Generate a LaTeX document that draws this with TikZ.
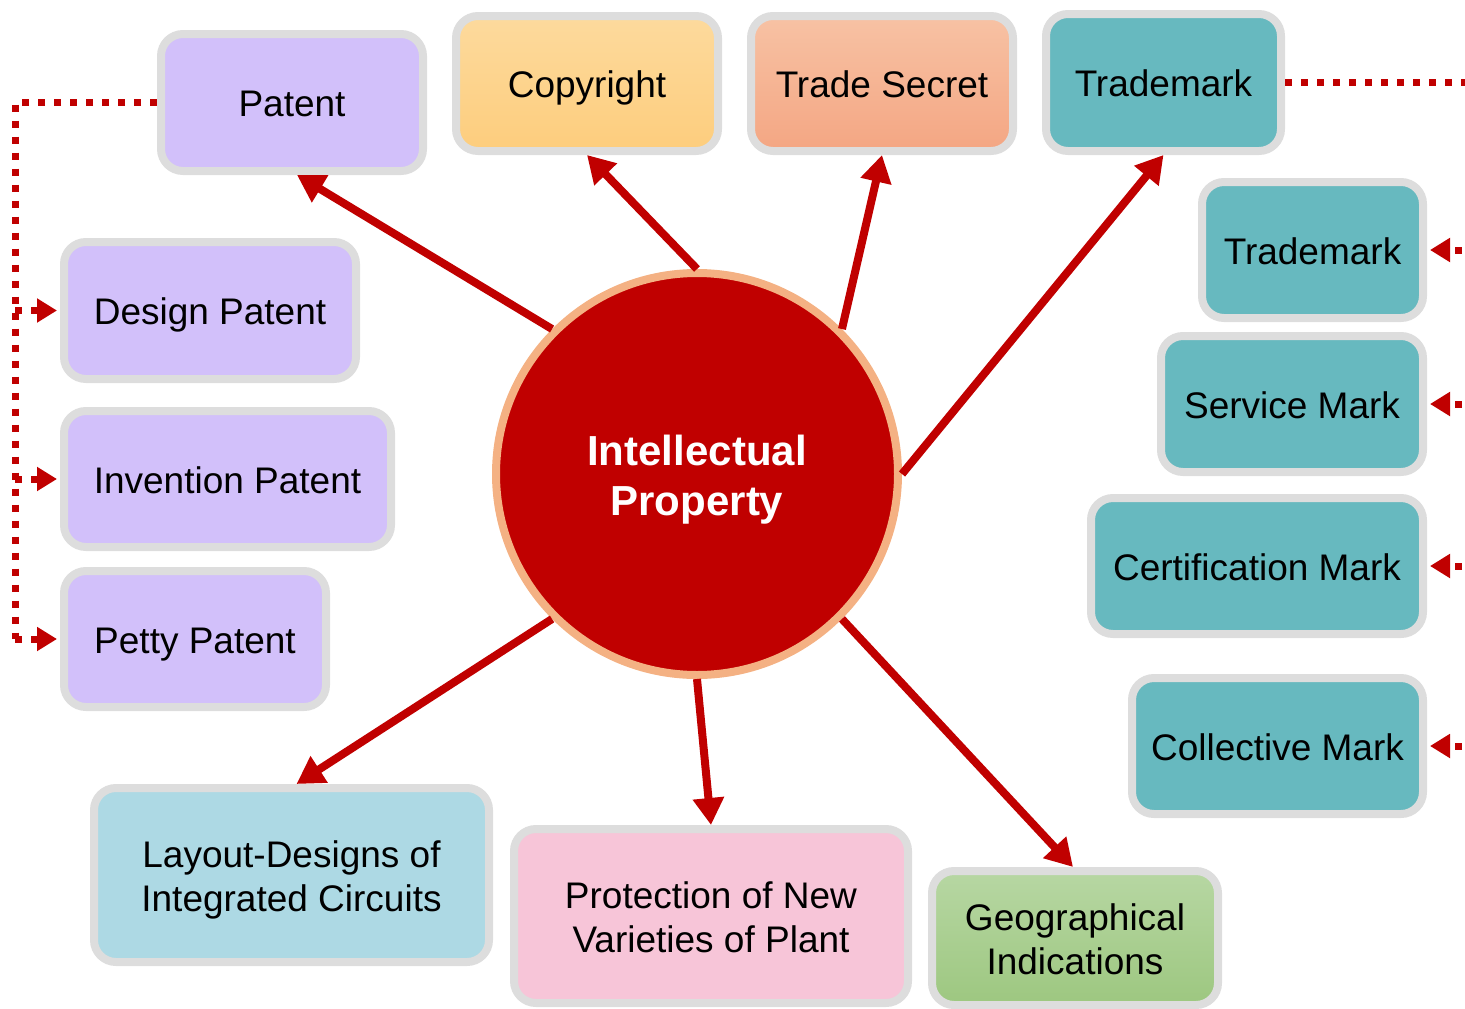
\documentclass[tikz,border=0pt]{standalone}
\usepackage{fontspec}
\setmainfont{Liberation Sans}
\usetikzlibrary{arrows.meta,calc}
\definecolor{ipred}{HTML}{C00000}
\definecolor{peach}{HTML}{F4B183}
\definecolor{gborder}{HTML}{DDDDDD}
\definecolor{lav}{HTML}{D2C0FA}
\definecolor{teal}{HTML}{67B9BF}
\definecolor{cpyT}{HTML}{FDDA9D}
\definecolor{cpyB}{HTML}{FDCD7D}
\definecolor{tsT}{HTML}{F7C2A4}
\definecolor{tsB}{HTML}{F4A683}
\definecolor{lblue}{HTML}{ADD9E4}
\definecolor{lpink}{HTML}{F7C5D8}
\definecolor{grT}{HTML}{B7D7A3}
\definecolor{grB}{HTML}{9DC780}
\newcommand\mytstrut{\rule[-7.85pt]{0pt}{44.1pt}}
\newcommand\mybstrut{\rule[-7.85pt]{0pt}{7.85pt}}
\newcommand\myctstrut{\rule[-8.8pt]{0pt}{49.6pt}}
\newcommand\mycbstrut{\rule[-8.8pt]{0pt}{8.8pt}}
\tikzset{
  box/.style={draw=gborder, line width=8pt, rounded corners=22pt, inner sep=0pt,
    align=center, font=\fontsize{37}{44}\selectfont, text=black,
    execute at begin node={\mytstrut}},
  mainarrow/.style={draw=ipred, line width=8pt, -{Triangle[length=27pt,width=30pt]}},
  dotline/.style={draw=ipred, line width=7pt, dash pattern=on 7pt off 9pt},
  dotarrow/.style={dotline, -{Triangle[length=20pt,width=23pt]}}
}
\begin{document}
\begin{tikzpicture}[x=1pt,y=-1pt]
\useasboundingbox (0,0) rectangle (1465,1009);
\clip (0,0) rectangle (1465,1009);

% central circle
\node[circle, draw=peach, line width=8pt, fill=ipred, minimum size=402pt, inner sep=0pt,
  text=white, align=center, font=\bfseries\fontsize{42}{50}\selectfont,
  execute at begin node={\mycbstrut}] (ip) at (697,474)
  {\myctstrut Intellectual\\Property\mycbstrut};

% top row
\node[box, fill=lav, minimum width=262pt, minimum height=137pt] (patent) at (292,102.5) {Patent};
\node[box, top color=cpyT, bottom color=cpyB, minimum width=262pt, minimum height=135pt] (copy) at (587,83.5) {Copyright};
\node[box, top color=tsT, bottom color=tsB, minimum width=262pt, minimum height=135pt] (secret) at (882,83.5) {Trade Secret};
\node[box, fill=teal, minimum width=235pt, minimum height=137pt] (tm) at (1163.5,82.5) {Trademark};

% right column
\node[box, fill=teal, minimum width=221pt, minimum height=136pt] (tmr) at (1312.5,250) {Trademark};
\node[box, fill=teal, minimum width=262pt, minimum height=136pt] (serv) at (1292,404) {Service Mark};
\node[box, fill=teal, minimum width=332pt, minimum height=136pt] (cert) at (1257,566) {Certification Mark};
\node[box, fill=teal, minimum width=291pt, minimum height=136pt] (coll) at (1277.5,746) {Collective Mark};

% left column
\node[box, fill=lav, minimum width=292pt, minimum height=137pt] (design) at (210,310.5) {Design Patent};
\node[box, fill=lav, minimum width=327pt, minimum height=136pt] (invent) at (227.5,479) {Invention Patent};
\node[box, fill=lav, minimum width=262pt, minimum height=136pt] (petty) at (195,639) {Petty Patent};

% bottom row
\node[box, fill=lblue, minimum width=395pt, minimum height=174pt] (layout) at (291.5,875) {\mytstrut Layout-Designs of\\Integrated Circuits\mybstrut};
\node[box, fill=lpink, minimum width=394pt, minimum height=174pt] (plant) at (711,916) {\mytstrut Protection of New\\Varieties of Plant\mybstrut};
\node[box, top color=grT, bottom color=grB, minimum width=286pt, minimum height=134pt] (geo) at (1075,938) {\mytstrut Geographical\\Indications\mybstrut};

% main arrows
\draw[mainarrow] (ip.135) -- ($(patent.south)+(5,0)$);
\draw[mainarrow] (ip.90) -- (copy.south);
\draw[mainarrow] (ip.45) -- (secret.south);
\draw[mainarrow] (ip.0) -- (tm.south);
\draw[mainarrow] (ip.225) -- ($(layout.north)+(5,0)$);
\draw[mainarrow] (ip.270) -- (plant.north);
\draw[mainarrow] (ip.-45) -- ($(geo.north)+(-2,0)$);

% left dotted bus
\coordinate (lx) at (15,0);
\draw[dotline] (patent.west) -| (lx |- petty.west);
\draw[dotarrow] (lx |- design.west) -- ($(design.west)+(-3,0)$);
\draw[dotarrow] (lx |- invent.west) -- ($(invent.west)+(-3,0)$);
\draw[dotarrow] (lx |- petty.west) -- ($(petty.west)+(-3,0)$);

% right dotted bus
\coordinate (rx) at (1478,0);
\draw[dotline] (tm.east) -| (rx |- coll.east);
\draw[dotarrow] (rx |- tmr.east) -- ($(tmr.east)+(3,0)$);
\draw[dotarrow] (rx |- serv.east) -- ($(serv.east)+(3,0)$);
\draw[dotarrow] (rx |- cert.east) -- ($(cert.east)+(3,0)$);
\draw[dotarrow] (rx |- coll.east) -- ($(coll.east)+(3,0)$);
\end{tikzpicture}
\end{document}
